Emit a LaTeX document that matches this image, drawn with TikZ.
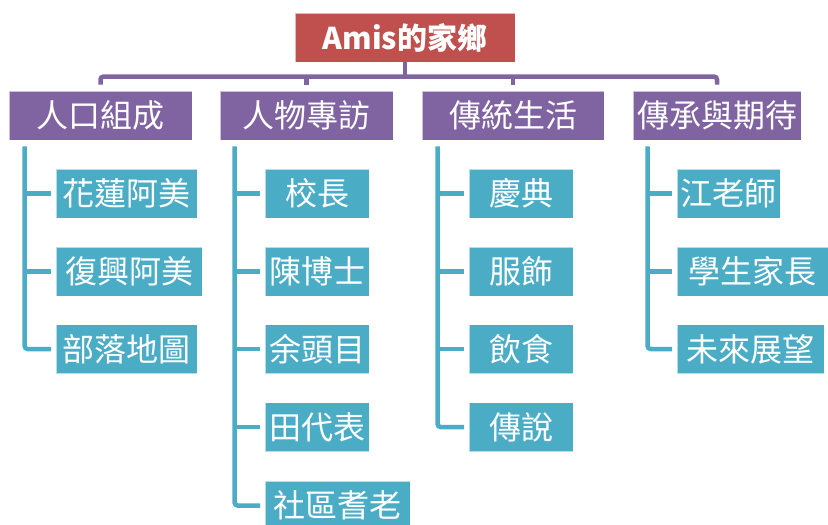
\documentclass[tikz,border=0pt]{standalone}
\usepackage{fontspec}
\setmainfont{Noto Sans CJK TC}
\definecolor{rootred}{HTML}{C0504D}
\definecolor{lvpurple}{HTML}{8064A2}
\definecolor{lvteal}{HTML}{4BACC6}
\tikzset{
  basebox/.style={draw=white, draw opacity=0.6, line width=0.8pt, minimum height=49, inner sep=0pt, text=white},
  rootbox/.style={basebox, fill=rootred, minimum width=220, font=\fontsize{30}{30}\bfseries\selectfont},
  topicbox/.style={basebox, fill=lvpurple, font=\fontsize{32}{32}\selectfont},
  itembox/.style={basebox, fill=lvteal, anchor=west, font=\fontsize{32}{32}\selectfont},
  pline/.style={draw=lvpurple, line width=4.5pt},
  tline/.style={draw=lvteal, line width=4.5pt},
}
\begin{document}
\begin{tikzpicture}[x=1pt,y=-1pt]
\useasboundingbox (0,0) rectangle (828,525);
% root
\node[rootbox] (root) at (405,37.5) {Amis的家鄉};
% level 1
\node[topicbox, minimum width=183] (l1a) at (100.5,115.5) {人口組成};
\node[topicbox, minimum width=173] (l1b) at (306.5,115.5) {人物專訪};
\node[topicbox, minimum width=182] (l1c) at (513,115.5) {傳統生活};
\node[topicbox, minimum width=168] (l1d) at (717,115.5) {傳承與期待};
% level 2
\node[itembox, minimum width=141] (a1) at (56,193.5) {花蓮阿美};
\node[itembox, minimum width=146] (a2) at (56,271.5) {復興阿美};
\node[itembox, minimum width=141] (a3) at (56,349) {部落地圖};
\node[itembox, minimum width=104] (b1) at (265,193.5) {校長};
\node[itembox, minimum width=104] (b2) at (265,271.5) {陳博士};
\node[itembox, minimum width=104] (b3) at (265,349) {余頭目};
\node[itembox, minimum width=104] (b4) at (265,427) {田代表};
\node[itembox, minimum width=145] (b5) at (265,505.5) {社區耆老};
\node[itembox, minimum width=104] (c1) at (469,193.5) {慶典};
\node[itembox, minimum width=104] (c2) at (469,271.5) {服飾};
\node[itembox, minimum width=104] (c3) at (469,349) {飲食};
\node[itembox, minimum width=104] (c4) at (469,427) {傳說};
\node[itembox, minimum width=103] (d1) at (677,193.5) {江老師};
\node[itembox, minimum width=151] (d2) at (677,271.5) {學生家長};
\node[itembox, minimum width=147] (d3) at (677,349) {未來展望};
% purple connectors
\draw[pline] (root.south) -- ([yshift=-15pt]root.south);
\draw[pline, rounded corners=3pt] ([yshift=6pt]l1a.north) -- ([yshift=14pt]l1a.north) -- ([yshift=14pt]l1d.north) -- ([yshift=6pt]l1d.north);
\draw[pline] ([yshift=6pt]l1b.north) -- ([yshift=14pt]l1b.north);
\draw[pline] ([yshift=6pt]l1c.north) -- ([yshift=14pt]l1c.north);
% teal connectors
\coordinate (ta) at ([xshift=16pt,yshift=-6pt]l1a.south west);
\coordinate (tb) at ([xshift=15pt,yshift=-6pt]l1b.south west);
\coordinate (tc) at ([xshift=16pt,yshift=-6pt]l1c.south west);
\coordinate (td) at ([xshift=15pt,yshift=-6pt]l1d.south west);
\draw[tline, rounded corners=3pt] (ta) |- ([xshift=-5pt]a3.west);
\draw[tline] (ta |- a1.west) -- ([xshift=-5pt]a1.west);
\draw[tline] (ta |- a2.west) -- ([xshift=-5pt]a2.west);
\draw[tline, rounded corners=3pt] (tb) |- ([xshift=-5pt]b5.west);
\draw[tline] (tb |- b1.west) -- ([xshift=-5pt]b1.west);
\draw[tline] (tb |- b2.west) -- ([xshift=-5pt]b2.west);
\draw[tline] (tb |- b3.west) -- ([xshift=-5pt]b3.west);
\draw[tline] (tb |- b4.west) -- ([xshift=-5pt]b4.west);
\draw[tline, rounded corners=3pt] (tc) |- ([xshift=-5pt]c4.west);
\draw[tline] (tc |- c1.west) -- ([xshift=-5pt]c1.west);
\draw[tline] (tc |- c2.west) -- ([xshift=-5pt]c2.west);
\draw[tline] (tc |- c3.west) -- ([xshift=-5pt]c3.west);
\draw[tline, rounded corners=3pt] (td) |- ([xshift=-5pt]d3.west);
\draw[tline] (td |- d1.west) -- ([xshift=-5pt]d1.west);
\draw[tline] (td |- d2.west) -- ([xshift=-5pt]d2.west);
\end{tikzpicture}
\end{document}
